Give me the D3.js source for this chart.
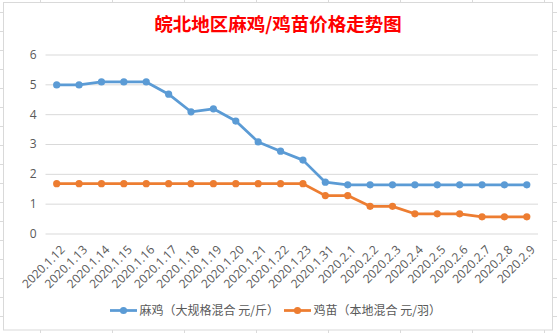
<!DOCTYPE html>
<html><head><meta charset="utf-8">
<script src="https://cdn.jsdelivr.net/npm/d3@7"></script>
<style>
html,body{margin:0;padding:0;background:#fff;}
svg{display:block;}
</style></head>
<body>
<svg id="c" width="557" height="333"></svg>
<script>
const categories = ["2020.1.12","2020.1.13","2020.1.14","2020.1.15","2020.1.16","2020.1.17","2020.1.18","2020.1.19","2020.1.20","2020.1.21","2020.1.22","2020.1.23","2020.1.31","2020.2.1","2020.2.2","2020.2.3","2020.2.4","2020.2.5","2020.2.6","2020.2.7","2020.2.8","2020.2.9"];
const maji = [4.98,4.98,5.08,5.08,5.08,4.67,4.08,4.18,3.77,3.07,2.76,2.46,1.72,1.63,1.63,1.63,1.63,1.63,1.63,1.63,1.63,1.63];
const jimiao = [1.67,1.67,1.67,1.67,1.67,1.67,1.67,1.67,1.67,1.67,1.67,1.67,1.27,1.27,0.91,0.91,0.66,0.66,0.66,0.56,0.56,0.56];
const yTicks = [0,1,2,3,4,5,6];
const seriesNames = ["麻鸡（大规格混合 元/斤）","鸡苗（本地混合 元/羽）"];
const titleText = "皖北地区麻鸡/鸡苗价格走势图";

const svg = d3.select("#c");
const W = 557, H = 333;
const grid = "#d9d9d9";

// spreadsheet background lines
const bg = svg.append("g");
d3.range(12.5, H, 19).forEach(y => bg.append("line").attr("x1",0).attr("x2",W).attr("y1",y).attr("y2",y).attr("stroke","#dadada"));
d3.range(40.5, W, 72).forEach(x => bg.append("line").attr("x1",x).attr("x2",x).attr("y1",0).attr("y2",H).attr("stroke","#dadada"));

// chart area
svg.append("rect").attr("x",3.5).attr("y",2.5).attr("width",549).attr("height",327.5)
  .attr("fill","#fff").attr("stroke","#d9d9d9");

const x = d3.scaleBand().domain(categories).range([45.5, 538]);
const y = d3.scaleLinear().domain([0,6]).range([233.5, 54.5]);

// title
svg.append("text").attr("x", 278).attr("y", 31).attr("text-anchor","middle")
  .attr("font-family","'Noto Sans CJK SC'").attr("font-weight","bold").attr("font-size",18.5)
  .attr("fill","#ff0000").text(titleText);

// y axis with gridlines
const yAxis = d3.axisLeft(y).tickValues(yTicks).tickSize(-(538-45.5)).tickPadding(9).tickFormat(d3.format("d"));
const gy = svg.append("g").attr("transform","translate(45.5,0)").call(yAxis);
gy.select(".domain").remove();
gy.selectAll(".tick line").attr("stroke",grid);
gy.selectAll(".tick text").attr("fill","#595959").attr("font-size",12).attr("font-family","'Open Sans', 'Noto Sans', sans-serif");

// x axis labels
const xAxis = d3.axisBottom(x).tickSize(0).tickPadding(0);
const gx = svg.append("g").attr("transform","translate(0,233.5)").call(xAxis);
gx.select(".domain").remove();
gx.selectAll(".tick text")
  .attr("fill","#595959").attr("font-size",12).attr("font-family","'Open Sans', 'Noto Sans', sans-serif")
  .attr("text-anchor","end").attr("dy",0)
  .attr("transform","translate(9,17) rotate(-45)");

const colors = ["#5b9bd5","#ed7d31"];
const cx = d => x(d) + x.bandwidth()/2;
const line = d3.line().x((d,i)=>cx(categories[i])).y(d=>y(d));

[maji, jimiao].forEach((s, k) => {
  svg.append("path").datum(s).attr("d", line).attr("fill","none")
    .attr("stroke", colors[k]).attr("stroke-width", 2.75).attr("stroke-linejoin","round");
  svg.append("g").selectAll("circle").data(s).join("circle")
    .attr("cx",(d,i)=>cx(categories[i])).attr("cy",d=>y(d)).attr("r",3.6).attr("fill",colors[k]);
});

// legend
const legX = [110, 284];
seriesNames.forEach((n,k) => {
  const g = svg.append("g").attr("transform",`translate(${legX[k]},310.5)`);
  g.append("line").attr("x1",0).attr("x2",27).attr("stroke",colors[k]).attr("stroke-width",2.75);
  g.append("circle").attr("cx",13.5).attr("r",3.6).attr("fill",colors[k]);
  g.append("text").attr("x",29.5).attr("y",4.5).attr("font-size",12).attr("fill","#595959")
    .attr("font-family","'Noto Sans CJK SC'").text(n);
});
</script>
</body></html>
